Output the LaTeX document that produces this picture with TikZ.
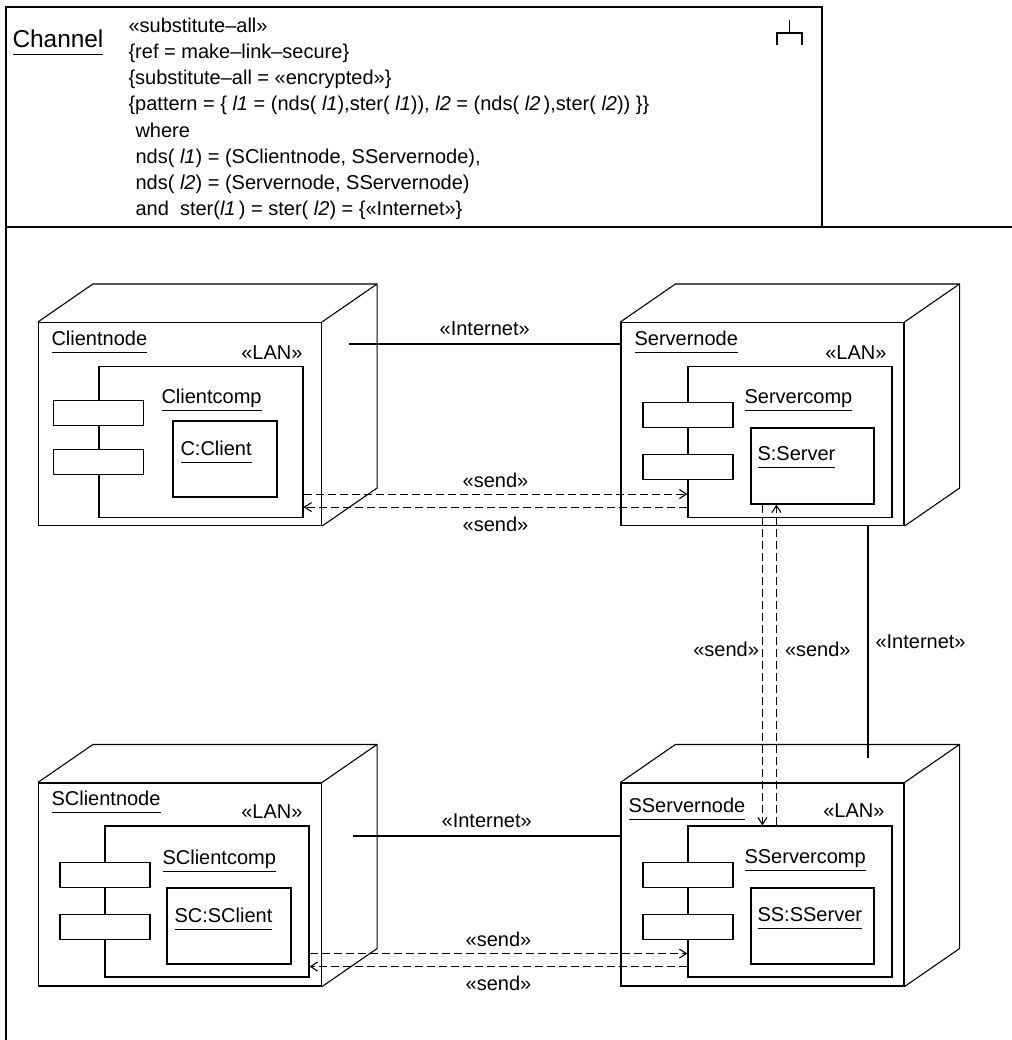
\documentclass[tikz,border=0pt]{standalone}
\usepackage{fontspec}
\setmainfont{Liberation Sans}
\usetikzlibrary{arrows.meta,positioning,calc}
\newcommand{\ulname}[1]{\underline{#1\vphantom{p}}}

\begin{document}
\begin{tikzpicture}[
    x=0.5pt, y=-0.5pt,
    line width=0.55pt,
    every node/.style={font=\fontsize{10}{12}\selectfont, inner sep=0pt},
    face/.style={rectangle, draw, minimum width=141.5pt, minimum height=101.5pt},
    comp/.style={rectangle, draw, minimum width=102pt, minimum height=75.5pt},
    port/.style={rectangle, draw, fill=white, minimum width=45pt, minimum height=12.5pt},
    obj/.style={rectangle, draw, minimum width=61.5pt, minimum height=38pt},
    lbl/.style={anchor=base west},
    ster/.style={anchor=base east},
    msg/.style={dash pattern=on 4pt off 2pt, -{Straight Barb[length=3.5pt,width=4.5pt]}}
]
\useasboundingbox (0,0) rectangle (1012,1040);

% frame and header
\draw (6,1040) -- (6,7) -- (822,7) -- (822,227);
\draw (6,227) -- (1012,227);
\draw (777,45) -- (777,33) -- (802,33) -- (802,45);
\draw (789.5,33) -- (789.5,20);

\node[lbl, font=\fontsize{12.2}{14}\selectfont] (channel) at (12,47) {\ulname{Channel}};
\node[lbl] (row1) at (128,32)  {«substitute--all»};
\node[lbl] (row2) at (128,58)  {\{ref = make--link--secure\}};
\node[lbl] (row3) at (128,84)  {\{substitute--all = «encrypted»\}};
\node[lbl] (row4) at (128,110) {\{pattern = \{ \textit{l1} = (nds( \textit{l1}),ster( \textit{l1})), \textit{l2} = (nds( \textit{l2}\,),ster( \textit{l2})) \}\}};
\node[lbl] (row5) at (135,137) {where};
\node[lbl] (row6) at (135,163) {nds( \textit{l1}) = (SClientnode, SServernode),};
\node[lbl] (row7) at (135,189) {nds( \textit{l2}) = (Servernode, SServernode)};
\node[lbl] (row8) at (135,215) {and\ \ ster(\textit{l1}\,) = ster( \textit{l2}) = \{«Internet»\}};

% deployment nodes
\node[face] (clientnode)  at (180,424)     {};
\node[face] (servernode)  at (762.5,424)   {};
\node[face] (sclientnode) at (180,884.5)   {};
\node[face] (sservernode) at (762.5,884.5) {};
\foreach \n in {clientnode,servernode,sclientnode,sservernode}
  \draw (\n.north west) -- ++(55,-38) -- ($(\n.north east)+(55,-38)$)
        -- ($(\n.south east)+(55,-38)$) -- (\n.south east)
        (\n.north east) -- ++(55,-38);

\node[lbl]  (clientname)  at (51,345)  {\ulname{Clientnode}};
\node[ster] (clientlan)   at (303,359) {«LAN»};
\node[lbl]  (servername)  at (634,345) {\ulname{Servernode}};
\node[ster] (serverlan)   at (887,359) {«LAN»};
\node[lbl]  (sclientname) at (51,805)  {\ulname{SClientnode}};
\node[ster] (sclientlan)  at (303,818) {«LAN»};
\node[lbl]  (sservername) at (628,812) {\ulname{SServernode}};
\node[ster] (sserverlan)  at (885,817) {«LAN»};

% components
\node[comp] (clientcomp)  at (201,442)   {};
\node[comp] (servercomp)  at (790,442)   {};
\node[comp] (sclientcomp) at (207,901.5) {};
\node[comp] (sservercomp) at (790,901.5) {};

\node[port] (clientport1)  at (98.5,413) {};
\node[port] (clientport2)  at (98.5,462) {};
\node[port] (serverport1)  at (688,415)  {};
\node[port] (serverport2)  at (688,467)  {};
\node[port] (sclientport1) at (105,875)  {};
\node[port] (sclientport2) at (105,927)  {};
\node[port] (sserverport1) at (688,875)  {};
\node[port] (sserverport2) at (688,927)  {};

\node[lbl] (clientcompname)  at (161,403) {\ulname{Clientcomp}};
\node[lbl] (servercompname)  at (744,403) {\ulname{Servercomp}};
\node[lbl] (sclientcompname) at (162,864) {\ulname{SClientcomp}};
\node[lbl] (sservercompname) at (744,863) {\ulname{SServercomp}};

% objects
\node[obj, minimum width=52pt] (clientobj) at (225,459) {};
\node[obj] (serverobj)  at (812.5,466) {};
\node[obj, minimum width=62pt] (sclientobj) at (229,926) {};
\node[obj] (sserverobj) at (812.5,926) {};

\node[lbl] (clientobjname)  at (180,455) {\ulname{C:Client}};
\node[lbl] (serverobjname)  at (757,460) {\ulname{S:Server}};
\node[lbl] (sclientobjname) at (174,922) {\ulname{SC:SClient}};
\node[lbl] (sserverobjname) at (757,921) {\ulname{SS:SServer}};

% links
\coordinate (clientlink)  at (349,344);
\coordinate (sclientlink) at (353,836);
\coordinate (sserverlink) at (868,758);
\draw (clientlink) -- node[above=4pt] {«Internet»} (servernode.west |- clientlink);
\draw (sclientlink) -- node[above=4pt] {«Internet»} (sservernode.west |- sclientlink);
\draw (servernode.south -| sserverlink) -- node[right=3.5pt] {«Internet»} (sserverlink);

% messages
\draw[msg] ($(clientcomp.south east)+(0,-24)$) -- node[above=3pt] {«send»} ($(servercomp.south west)+(0,-24)$);
\draw[msg] ($(servercomp.south west)+(0,-11)$) -- node[below=4.5pt] {«send»} ($(clientcomp.south east)+(0,-11)$);
\draw[msg] ($(sclientcomp.south east)+(0,-24)$) -- node[above=3pt] {«send»} ($(sservercomp.south west)+(0,-24)$);
\draw[msg] ($(sservercomp.south west)+(0,-11)$) -- node[below=4.5pt] {«send»} ($(sclientcomp.south east)+(0,-11)$);

\coordinate (downtop) at ($(serverobj.south west)+(12,0)$);
\coordinate (uptop)   at ($(serverobj.south west)+(26,0)$);
\draw[msg] (downtop) -- node[left=1.5pt, pos=0.45] {«send»} (downtop |- sservercomp.north);
\draw[msg] (uptop |- sservercomp.north) -- node[right=4pt, pos=0.55] {«send»} (uptop);

\end{tikzpicture}
\end{document}
